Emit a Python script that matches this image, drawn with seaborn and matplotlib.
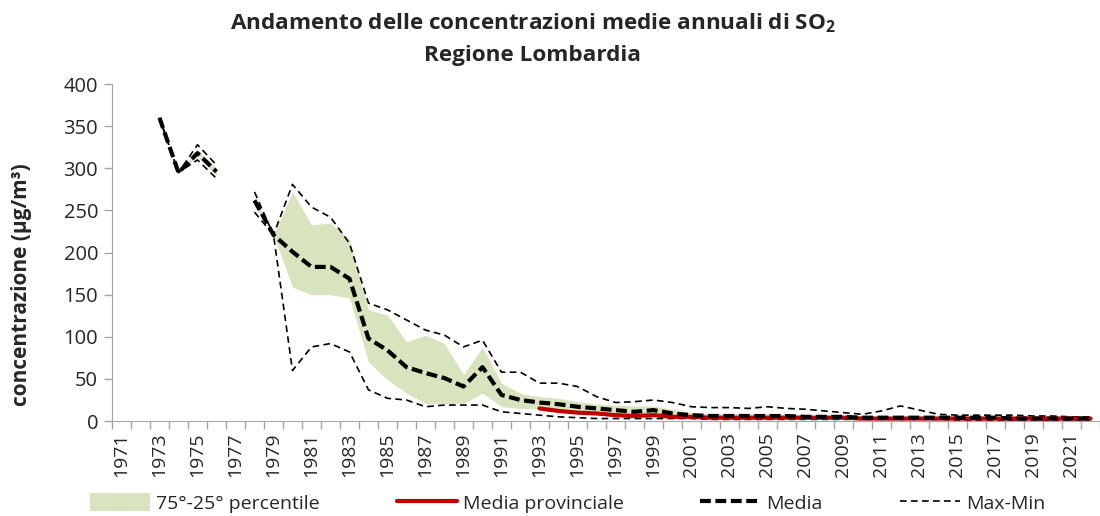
import numpy as np
import pandas as pd
import matplotlib
matplotlib.use("Agg")
import matplotlib.pyplot as plt
import seaborn as sns
from matplotlib.lines import Line2D
from matplotlib.patches import Patch

# data (ug/m3), years 1973-2022, 1977 missing
years = list(range(1973, 2023))
nan = np.nan

val_max = [360, 295, 328, 304, nan, 272, 221, 281, 254, 242, 211, 140, 132, 120, 108, 102,
           88, 96, 58, 58, 45, 45, 41, 29, 22, 23, 25, 22, 17, 16, 16, 15, 17, 15, 14, 12,
           10, 8, 12, 18, 13, 8, 7, 7, 7, 7, 6, 6, 5, 5]
val_min = [360, 295, 310, 288, nan, 248, 221, 60, 88, 92, 82, 37, 27, 25, 17, 19,
           19, 19, 11, 9, 7, 5, 4, 3, 3, 3, 3, 3, 3, 2, 2, 2, 2, 2, 2, 2,
           2, 2, 2, 2, 2, 2, 1, 1, 1, 1, 1, 1, 1, 1]
val_media = [360, 295, 318, 296, nan, 262, 221, 201, 183, 183, 169, 98, 84, 64, 57, 51,
             41, 64, 31, 25, 22, 20, 17, 15, 13, 11, 13, 9, 7, 6, 6, 6, 6, 6, 5, 5,
             5, 4, 4, 4, 4, 4, 4, 4, 4, 3, 3, 3, 3, 3]
val_p75 = [360, 295, 322, 300, nan, 265, 221, 272, 233, 235, 215, 132, 126, 94, 102, 92,
           55, 88, 45, 33, 29, 27, 23, 20, 19, 18, 18, 14, 10, 9, 9, 9, 9, 8, 7, 7,
           6, 5, 5, 5, 5, 5, 4, 4, 4, 4, 4, 4, 4, 4]
val_p25 = [360, 295, 314, 292, nan, 255, 221, 159, 150, 150, 146, 70, 49, 33, 21, 21,
           21, 33, 17, 15, 15, 12, 10, 9, 8, 7, 8, 6, 5, 4, 4, 4, 4, 4, 3, 3,
           3, 3, 3, 3, 3, 3, 3, 2, 2, 2, 2, 2, 2, 2]
val_prov = [nan] * 20 + [15, 12, 10, 9, 7, 6, 7, 5, 5, 4, 4, 4, 4, 4, 4, 4,
                         4, 3, 3, 3, 3, 3, 3, 3, 3, 3, 3, 3, 3, 3]

df = pd.DataFrame({"anno": years, "max": val_max, "min": val_min, "media": val_media,
                   "p75": val_p75, "p25": val_p25, "prov": val_prov})
df["seg"] = np.where(df["anno"] < 1977, 0, 1)

sns.set_style("white")
font = "Open Sans"
plt.rcParams["font.family"] = [font, "DejaVu Sans"]
plt.rcParams["mathtext.fontset"] = "custom"
plt.rcParams["mathtext.rm"] = font
plt.rcParams["mathtext.bf"] = font + ":bold"

fig = plt.figure(figsize=(11, 5.16), dpi=100)
ax = fig.add_axes([0.1018, 0.184, 0.8982, 0.653])

green = "#d7e4bd"
for s, d in df.groupby("seg"):
    ax.fill_between(d["anno"], d["p25"], d["p75"], color=green, lw=0)

dash_thin = (0, (4, 2.6))
dash_thick = (0, (2.6, 1.1))

sns.lineplot(data=df, x="anno", y="max", units="seg", estimator=None, ax=ax,
             color="black", lw=1.2, linestyle=dash_thin)
sns.lineplot(data=df, x="anno", y="min", units="seg", estimator=None, ax=ax,
             color="black", lw=1.2, linestyle=dash_thin)
sns.lineplot(data=df, x="anno", y="prov", estimator=None, ax=ax,
             color="#c00000", lw=3)
sns.lineplot(data=df, x="anno", y="media", units="seg", estimator=None, ax=ax,
             color="black", lw=3, linestyle=dash_thick)

ax.set_xlim(1970.5, 2022.5)
ax.set_ylim(0, 400)
ax.set_yticks(range(0, 401, 50))
ax.set_xticks(range(1971, 2022, 2))
ax.set_xticklabels([str(y) for y in range(1971, 2022, 2)], rotation=90)
ax.set_xticks(np.arange(1970.5, 2023, 1), minor=True)
ax.tick_params(axis="x", which="major", length=0, pad=8, labelsize=14)
ax.tick_params(axis="x", which="minor", length=6, width=1, color="#a6a6a6",
               direction="out", bottom=True)
ax.tick_params(axis="y", length=6, width=1, color="#a6a6a6", direction="out",
               left=True, labelsize=14.5, pad=4)

sns.despine(ax=ax, top=True, right=True)
ax.spines["left"].set_color("#a6a6a6")
ax.spines["bottom"].set_color("#a6a6a6")
ax.set_xlabel("")
ax.set_ylabel("")
fig.text(0.02, 0.448, "concentrazione (µg/m³)", rotation=90, ha="center", va="center",
         fontsize=15, fontweight="bold")

fig.text(0.484, 0.955, r"Andamento delle concentrazioni medie annuali di SO$_\mathbf{2}$",
         ha="center", va="center", fontsize=16.2, fontweight="bold")
fig.text(0.484, 0.893, "Regione Lombardia", ha="center", va="center",
         fontsize=16.2, fontweight="bold")

handles = [Patch(facecolor=green, edgecolor="none"),
           Line2D([], [], color="#c00000", lw=3),
           Line2D([], [], color="black", lw=3, linestyle=dash_thick),
           Line2D([], [], color="black", lw=1.2, linestyle=dash_thin)]
labels = ["75°-25° percentile", "Media provinciale", "Media", "Max-Min"]
fig.legend(handles, labels, loc="center left", bbox_to_anchor=(0.066, 0.025),
           ncol=4, frameon=False, fontsize=14, handlelength=3.1,
           handletextpad=0.3, columnspacing=3.95, handleheight=1.0)

fig.savefig("out.png", dpi=100)
